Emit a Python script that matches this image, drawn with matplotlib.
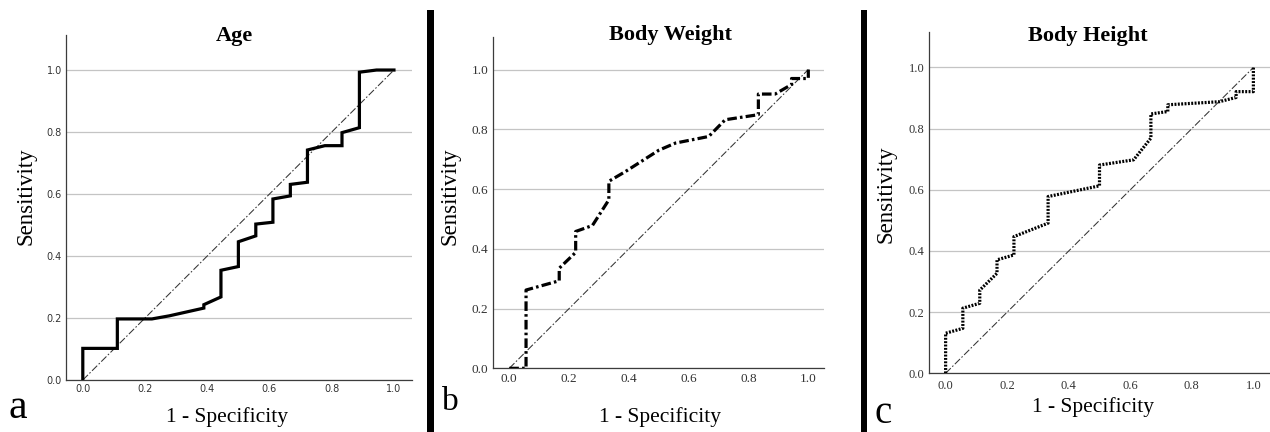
import matplotlib
matplotlib.use("Agg")
import matplotlib.pyplot as plt
from matplotlib.patches import Rectangle

# ---- data ----
age_x = [0, 0, 0.111, 0.111, 0.222, 0.278, 0.389, 0.389, 0.444, 0.444, 0.5, 0.5,
         0.556, 0.556, 0.611, 0.611, 0.667, 0.667, 0.722, 0.722, 0.778, 0.833,
         0.833, 0.889, 0.889, 0.944, 1.0]
age_y = [0, 0.102, 0.102, 0.197, 0.197, 0.207, 0.232, 0.243, 0.268, 0.354, 0.366,
         0.446, 0.465, 0.503, 0.509, 0.584, 0.594, 0.631, 0.638, 0.742, 0.756,
         0.756, 0.798, 0.814, 0.993, 1.0, 1.0]

weight_x = [0, 0.056, 0.056, 0.167, 0.167, 0.222, 0.222, 0.278, 0.333, 0.333, 0.389,
            0.5, 0.556, 0.667, 0.722, 0.833, 0.833, 0.889, 0.944, 0.944, 1.0, 1.0]
weight_y = [0, 0, 0.262, 0.293, 0.335, 0.388, 0.458, 0.478, 0.564, 0.626, 0.659,
            0.73, 0.754, 0.776, 0.832, 0.849, 0.918, 0.918, 0.95, 0.97, 0.97, 1.0]

height_x = [0, 0, 0.056, 0.056, 0.111, 0.111, 0.167, 0.167, 0.222, 0.222, 0.333,
            0.333, 0.5, 0.5, 0.611, 0.667, 0.667, 0.722, 0.722, 0.889, 0.944, 0.944,
            1.0, 1.0]
height_y = [0, 0.131, 0.147, 0.213, 0.229, 0.272, 0.327, 0.371, 0.387, 0.447, 0.491,
            0.578, 0.613, 0.681, 0.698, 0.769, 0.848, 0.856, 0.878, 0.888, 0.902,
            0.921, 0.921, 1.0]

ref_line = [0, 1]
ticks = [0.0, 0.2, 0.4, 0.6, 0.8, 1.0]
tick_labels = ["0.0", "0.2", "0.4", "0.6", "0.8", "1.0"]
titles = ["Age", "Body Weight", "Body Height"]
letters = ["a", "b", "c"]

W, H = 1270, 432
fig = plt.figure(figsize=(W / 100, H / 100), dpi=100)

SERIF = ["Liberation Serif", "DejaVu Serif"]

def fx(px):
    return px / W

def fy(py):
    return (H - py) / H

panels = [
    dict(left=66, right=412, bottom=380, top=35, xlim=(-0.054, 1.058), ylim=(0, 1.113),
         x=age_x, y=age_y, ls="-", tickfont=["DejaVu Sans"], tsize=7.0, xpad=3.0, ypad=2.8,
         title_xy=(234.7, 41), xlab_xy=(226.5, 422), ylab_xy=(26, 196),
         letter_xy=(8, 418), letter_size=30),
    dict(left=492.7, right=824.3, bottom=368.3, top=36.7, xlim=(-0.0555, 1.0535), ylim=(0, 1.11),
         x=weight_x, y=weight_y, ls=(0, (3.0, 1.0, 0.8, 1.0)), tickfont=SERIF, tsize=9.5,
         xpad=3.5, ypad=3.0,
         title_xy=(670.8, 40), xlab_xy=(660, 422), ylab_xy=(450, 196),
         letter_xy=(442, 410), letter_size=24),
    dict(left=929.3, right=1270, bottom=373.3, top=32.3, xlim=(-0.053, 1.054), ylim=(0, 1.115),
         x=height_x, y=height_y, ls=(0, (0.6, 0.45)), tickfont=SERIF, tsize=9.0,
         xpad=4.5, ypad=3.5,
         title_xy=(1087.5, 40.7), xlab_xy=(1093.3, 412), ylab_xy=(886, 194),
         letter_xy=(875, 423), letter_size=28),
]

for i, p in enumerate(panels):
    ax = fig.add_axes([fx(p["left"]), fy(p["bottom"]),
                       (p["right"] - p["left"]) / W, (p["bottom"] - p["top"]) / H])
    ax.set_xlim(*p["xlim"])
    ax.set_ylim(*p["ylim"])
    ax.set_yticks(ticks)
    ax.set_xticks(ticks)
    ax.set_yticklabels(tick_labels)
    ax.set_xticklabels(tick_labels)
    for lab in ax.get_xticklabels() + ax.get_yticklabels():
        lab.set_family(p["tickfont"])
        lab.set_fontsize(p["tsize"])
        lab.set_color("#333333")
    ax.tick_params(axis="both", length=0)
    ax.tick_params(axis="x", pad=p["xpad"])
    ax.tick_params(axis="y", pad=p["ypad"])
    ax.yaxis.grid(True, color="#c4c4c4", linewidth=0.9)
    ax.xaxis.grid(False)
    ax.set_axisbelow(True)
    for s in ["top", "right"]:
        ax.spines[s].set_visible(False)
    for s in ["left", "bottom"]:
        ax.spines[s].set_color("#3c3c3c")
        ax.spines[s].set_linewidth(0.9)
    ax.plot(ref_line, ref_line, color="#333333", linewidth=0.75,
            linestyle=(0, (7, 2, 1.5, 2)), zorder=2)
    ax.plot(p["x"], p["y"], color="black", linewidth=2.3, linestyle=p["ls"],
            solid_joinstyle="miter", dash_capstyle="butt", zorder=3)

    fig.text(fx(p["title_xy"][0]), fy(p["title_xy"][1]), titles[i], ha="center",
             va="baseline", fontsize=16, fontweight="bold", family=SERIF)
    fig.text(fx(p["xlab_xy"][0]), fy(p["xlab_xy"][1]), "1 - Specificity", ha="center",
             va="baseline", fontsize=15.5, family=SERIF)
    fig.text(fx(p["ylab_xy"][0]), fy(p["ylab_xy"][1]), "Sensitivity", ha="center",
             va="center", rotation=90, fontsize=16.5, family=SERIF)
    fig.text(fx(p["letter_xy"][0]), fy(p["letter_xy"][1]), letters[i], ha="left",
             va="baseline", fontsize=p["letter_size"], family=SERIF)

# thick vertical separators
for x0, x1 in [(427.3, 434.3), (860.7, 866.7)]:
    fig.add_artist(Rectangle((fx(x0), 0), (x1 - x0) / W, fy(10), transform=fig.transFigure,
                             facecolor="black", edgecolor="none"))

fig.savefig("out.png", dpi=100)
